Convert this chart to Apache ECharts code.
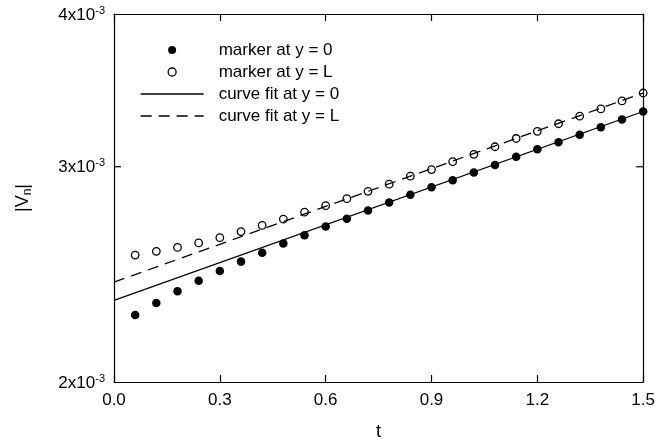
<!DOCTYPE html>
<html><head><meta charset="utf-8">
<script src="https://cdn.jsdelivr.net/npm/echarts@6/dist/echarts.min.js"></script>
<style>html,body{margin:0;padding:0;background:#fff}#c{width:658px;height:446px}</style>
</head><body><div id="c"></div>
<script>
// ---- data ----
const times = [0.06,0.12,0.18,0.24,0.30,0.36,0.42,0.48,0.54,0.60,0.66,0.72,0.78,0.84,0.90,0.96,1.02,1.08,1.14,1.20,1.26,1.32,1.38,1.44,1.50];
const markerY0 = [0.002269,0.002321,0.002373,0.002420,0.002465,0.002509,0.002551,0.002596,0.002637,0.002680,0.002720,0.002762,0.002804,0.002846,0.002886,0.002925,0.002967,0.003010,0.003057,0.003101,0.003142,0.003187,0.003231,0.003279,0.003329];
const markerYL = [0.002540,0.002558,0.002577,0.002599,0.002625,0.002655,0.002686,0.002718,0.002754,0.002788,0.002825,0.002864,0.002903,0.002947,0.002984,0.003029,0.003071,0.003115,0.003164,0.003207,0.003253,0.003300,0.003345,0.003396,0.003447];
const fitTimes = [0, 1.5];
const fitY0 = [0.002332, 0.003329];
const fitYL = [0.002414, 0.003447];
const xTickLabels = ['0.0','0.3','0.6','0.9','1.2','1.5'];
const yTickValues = [0.002, 0.003, 0.004];
const yTickMantissa = ['2x10','3x10','4x10'];
const yTickExponent = ['-3','-3','-3'];
const seriesNames = ['marker at y = 0','marker at y = L','curve fit at y = 0','curve fit at y = L'];

const FONT = '"Liberation Sans", Arial, sans-serif';
const chart = echarts.init(document.getElementById('c'), null, {renderer:'canvas'});
const axisLine = {show:true, onZero:false, lineStyle:{color:'#000', width:1.2}};
const xTick = {show:true, inside:true, length:7, lineStyle:{color:'#000', width:1.2}};
const noSymbol = {color:'rgba(0,0,0,0)', borderWidth:0, opacity:0};
const option = {
  animation:false,
  backgroundColor:'#fff',
  grid:{left:114, right:13, top:14, bottom:60},
  legend:{
    orient:'vertical', left:140, top:39, padding:0, itemGap:0,
    itemWidth:63, itemHeight:8, selectedMode:false,
    textStyle:{fontSize:17, fontFamily:FONT, color:'#000', lineHeight:22, padding:[0,0,0,10]},
    lineStyle:{width:1.3},
    data:[
      {name:seriesNames[0], itemStyle:{borderWidth:0, opacity:1}},
      {name:seriesNames[1], itemStyle:{borderWidth:1.3, opacity:1}},
      {name:seriesNames[2], itemStyle:noSymbol},
      {name:seriesNames[3], itemStyle:noSymbol}
    ]
  },
  xAxis:[
    {type:'value', min:0, max:1.5, interval:0.3, position:'bottom',
     axisLine, axisTick:xTick, splitLine:{show:false},
     axisLabel:{fontSize:17, fontFamily:FONT, color:'#000', margin:10,
       formatter:(v)=>xTickLabels[Math.round(v/0.3)]},
     name:'t', nameLocation:'middle', nameGap:41,
     nameTextStyle:{fontSize:18, fontFamily:FONT, color:'#000'}},
    {type:'value', min:0, max:1.5, interval:0.3, position:'top',
     axisLine, axisTick:xTick, splitLine:{show:false}, axisLabel:{show:false}}
  ],
  yAxis:[
    {type:'log', logBase:10, min:0.002, max:0.004, position:'left',
     axisLine, axisTick:{show:false}, axisLabel:{show:false}, splitLine:{show:false}, minorTick:{show:false}},
    {type:'log', logBase:10, min:0.002, max:0.004, position:'right',
     axisLine, axisTick:{show:false}, axisLabel:{show:false}, splitLine:{show:false}, minorTick:{show:false}}
  ],
  series:[
    {name:seriesNames[0], type:'scatter', symbol:'circle', symbolSize:8.5,
     data:times.map((t,i)=>[t, markerY0[i]]),
     itemStyle:{color:'#000', borderWidth:0, opacity:1}, z:4},
    {name:seriesNames[1], type:'scatter', symbol:'circle', symbolSize:7.5,
     data:times.map((t,i)=>[t, markerYL[i]]),
     itemStyle:{color:'rgba(0,0,0,0)', borderColor:'#000', borderWidth:1.3, opacity:1}, z:4},
    {name:seriesNames[2], type:'line', symbol:'none',
     data:fitTimes.map((t,i)=>[t, fitY0[i]]),
     lineStyle:{color:'#000', width:1.3, type:'solid'}, itemStyle:{color:'#000'}, z:2},
    {name:seriesNames[3], type:'line', symbol:'none',
     data:fitTimes.map((t,i)=>[t, fitYL[i]]),
     lineStyle:{color:'#000', width:1.3, type:[11,7]}, itemStyle:{color:'#000'}, z:2}
  ]
};
chart.setOption(option);

// y tick labels / interior ticks placed through the log axis scale
const g = [];
yTickValues.forEach((v,i)=>{
  const pl = chart.convertToPixel({xAxisIndex:0, yAxisIndex:0}, [0, v]);
  const pr = chart.convertToPixel({xAxisIndex:0, yAxisIndex:0}, [1.5, v]);
  g.push({type:'text', x:pl[0]-9, y:pl[1]+1, silent:true,
    style:{text:'{m|'+yTickMantissa[i]+'}{s|'+yTickExponent[i]+'}', align:'right', verticalAlign:'middle',
      rich:{m:{fontSize:17, fontFamily:FONT, fill:'#000', lineHeight:20},
            s:{fontSize:11, fontFamily:FONT, fill:'#000', lineHeight:12, verticalAlign:'top'}}}});
  if (i>0 && i<yTickValues.length-1){
    g.push({type:'line', silent:true, shape:{x1:pl[0], y1:pl[1], x2:pl[0]+7, y2:pl[1]}, style:{stroke:'#000', lineWidth:1.2}});
    g.push({type:'line', silent:true, shape:{x1:pr[0]-7, y1:pr[1], x2:pr[0], y2:pr[1]}, style:{stroke:'#000', lineWidth:1.2}});
  }
});
const pTop = chart.convertToPixel({yAxisIndex:0}, 0.004);
const pBot = chart.convertToPixel({yAxisIndex:0}, 0.002);
g.push({type:'text', x:23, y:(pTop+pBot)/2, rotation:Math.PI/2, silent:true,
  style:{text:'{a||V}{s|n}{a||}', align:'center', verticalAlign:'middle',
    rich:{a:{fontSize:18, fontFamily:FONT, fill:'#000', lineHeight:22},
          s:{fontSize:12, fontFamily:FONT, fill:'#000', lineHeight:13, verticalAlign:'bottom'}}}});
chart.setOption({graphic:{elements:g}});
</script></body></html>
